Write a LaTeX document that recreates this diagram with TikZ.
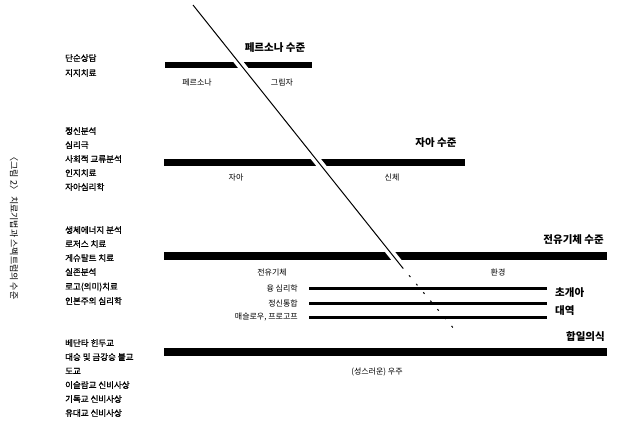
\documentclass[tikz,border=0pt]{standalone}
\usepackage{fontspec}
\setmainfont{Noto Sans CJK KR}
\newfontfamily\listfont[FakeBold=1.2]{Noto Sans CJK KR}
\usepackage{tikz}
\usetikzlibrary{calc}
\newcommand{\levelbar}[4]{\draw[line width=#4] ( #1 , #2 ) -- ( #3 , #2 );}
\tikzset{
  levelname/.style={font=\fontsize{10.5}{12}\selectfont\bfseries, inner sep=0pt},
  sidename/.style={font=\fontsize{8}{9}\selectfont, inner sep=0pt},
  therapy/.style={font=\listfont\fontsize{8.5}{10}\selectfont, anchor=west, inner sep=0pt}
}
\begin{document}
\begin{tikzpicture}[x=1pt, y=-1pt]
            \useasboundingbox (0,0) rectangle (632,429);
            % bars
            \levelbar{165}{65}{312}{6pt}
            \levelbar{164}{162}{465}{7pt}
            \levelbar{164}{256}{607}{8pt}
            \levelbar{309}{288}{547}{3pt}
            \levelbar{309}{303}{547}{3pt}
            \levelbar{309}{317}{547}{3pt}
            \levelbar{164}{352}{607}{8pt}
            % diagonal
            \coordinate (top) at (193,5);
            \coordinate (cut) at (402,267);
            \coordinate (tail) at (455,330);
            \draw[white, line width=8pt] (top) -- (cut);
            \draw[line width=1pt] (top) -- (cut);
            \draw[line width=1pt, dash pattern=on 2pt off 9pt] (cut) -- (tail);
            % level names
            \node[levelname] (persona) at (275,48) {페르소나 수준};
            \node[levelname] (ego) at (436,143) {자아 수준};
            \node[levelname, anchor=east] (centaur) at (604,240) {전유기체 수준};
            \node[levelname, anchor=west] (transp) at (555,293) {초개아};
            \node[levelname, anchor=west] (band) at (555,311) {대역};
            \node[levelname, anchor=east] (unity) at (605,337) {합일의식};
            % sides
            \node[sidename] (mask) at (197,82) {페르소나};
            \node[sidename] (shadow) at (282,82) {그림자};
            \node[sidename] (self) at (236,177) {자아};
            \node[sidename] (body) at (392,177) {신체};
            \node[sidename] (organism) at (272,272) {전유기체};
            \node[sidename] (environ) at (498,272) {환경};
            \node[sidename] (cosmos) at (377,372) {(성스러운) 우주};
            \node[sidename, anchor=east] (jung) at (298,288) {융 심리학};
            \node[sidename, anchor=east] (psychosyn) at (298,303) {정신통합};
            \node[sidename, anchor=east] (maslow) at (298,317) {매슬로우, 프로고프};
            % therapies
            \node[therapy] (t1) at (65,58) {단순상담};
            \node[therapy] (t2) at (65,73) {지지치료};
            \node[therapy] (t3) at (65,131) {정신분석};
            \node[therapy] (t4) at (65,145) {심리극};
            \node[therapy] (t5) at (65,159) {사회적 교류분석};
            \node[therapy] (t6) at (65,173) {인지치료};
            \node[therapy] (t7) at (65,187) {자아심리학};
            \node[therapy] (t8) at (65,230) {생체에너지 분석};
            \node[therapy] (t9) at (65,244) {로저스 치료};
            \node[therapy] (t10) at (65,258) {게슈탈트 치료};
            \node[therapy] (t11) at (65,272) {실존분석};
            \node[therapy] (t12) at (65,287) {로고(의미)치료};
            \node[therapy] (t13) at (65,301) {인본주의 심리학};
            \node[therapy] (t14) at (65,343) {베단타 힌두교};
            \node[therapy] (t15) at (65,357) {대승 및 금강승 불교};
            \node[therapy] (t16) at (65,371) {도교};
            \node[therapy] (t17) at (65,385) {이슬람교 신비사상};
            \node[therapy] (t18) at (65,399) {기독교 신비사상};
            \node[therapy] (t19) at (65,413) {유대교 신비사상};
            % caption
            \node[sidename, rotate=-90, font=\fontsize{9}{10}\selectfont] (caption) at (14,226) {〈그림 2〉 치료기법과 스펙트럼의 수준};
        \end{tikzpicture}
\end{document}
